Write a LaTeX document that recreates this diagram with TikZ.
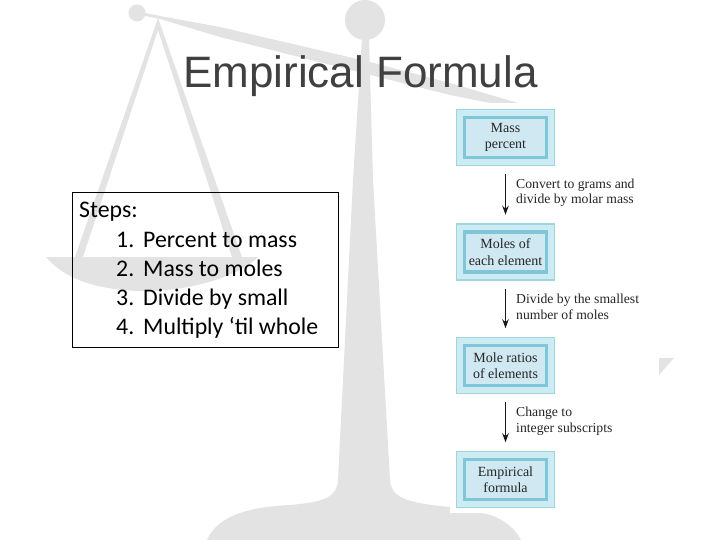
\documentclass[tikz,border=0pt]{standalone}
\usepackage{fontspec}
\setmainfont{Carlito}
\newfontfamily\titlefont{Liberation Sans}
\newfontfamily\flowfont{Liberation Serif}
\usetikzlibrary{arrows.meta}
\definecolor{scalegray}{HTML}{E3E3E3}
\definecolor{titlegray}{HTML}{404040}
\definecolor{edgeblue}{HTML}{9FD4E1}
\definecolor{paleblue}{HTML}{CDEBF2}
\definecolor{darkblue}{HTML}{7FC6D8}
\definecolor{innerblue}{HTML}{CFE8F1}
\definecolor{flowink}{HTML}{262626}
\tikzset{
  scaleshape/.style={fill=scalegray,draw=none},
  stepline/.style={anchor=base west,inner sep=0pt,font=\fontsize{23.8}{29}\selectfont,text=black},
  flowbox/.style={rectangle,draw=edgeblue,line width=1.5pt,fill=paleblue,minimum width=98pt,minimum height=56pt,inner sep=0pt,
    align=center,text=flowink,font=\flowfont\fontsize{14}{16.5}\selectfont,
    path picture={\draw[darkblue,line width=3.5pt,fill=innerblue]
      ([shift={(8pt,8pt)}]path picture bounding box.south west) rectangle
      ([shift={(-8pt,-8pt)}]path picture bounding box.north east);}},
  flowlabel/.style={anchor=west,inner sep=0pt,align=left,text=flowink,font=\flowfont\fontsize{13.7}{15.5}\selectfont},
  flowarrow/.style={-{Stealth[length=9pt,width=6.5pt]},line width=1.5pt,draw=black!90,shorten <=8pt,shorten >=8.5pt}
}
\begin{document}
\begin{tikzpicture}[x=1pt,y=-1pt]
\useasboundingbox (0,0) rectangle (720,540);
\fill[white] (0,0) rectangle (720,540);
% scale silhouette
\fill[scaleshape] (137,13) circle (8.5);
\fill[scaleshape] (365,20) circle (20);
\fill[scaleshape] (140,12) -- (160,16) -- (220,27) -- (370,62) -- (450,83) -- (518,103) -- (490,103) -- (450,95) -- (220,37) -- (160,19) -- (140,15) -- cycle;
\fill[scaleshape] (158,18) -- (75,257) -- (83,257) -- (158,30) -- (232,257) -- (242,257) -- cycle;
\fill[scaleshape] (46,257) -- (258,257) .. controls (235,280) and (180,292) .. (140,291) .. controls (100,290) and (65,280) .. (46,257) -- cycle;
\fill[scaleshape] (362,38) -- (369,38) -- (373,180) -- (390,480) .. controls (391,497) and (405,503) .. (450,507) -- (480,513) .. controls (500,515) and (515,528) .. (521,540) -- (207,540) .. controls (218,515) and (250,507) .. (290,505) .. controls (325,502) and (337,497) .. (338,480) -- (353,180) -- cycle;
\fill[white] (450,103) rectangle (660,513);
\fill[scaleshape] (659,358) -- (674,358) -- (659,375) -- cycle;
% title
\node[anchor=base,inner sep=0pt,text=titlegray,font=\titlefont\fontsize{44}{50}\selectfont] (title) at (360.5,88) {Empirical Formula};
% steps box
\node[draw=black,line width=1pt,minimum width=266pt,minimum height=154.5pt,inner sep=0pt] (stepsbox) at (205.5,269.75) {};
\node[stepline] (s0) at (79,217.5) {Steps:};
\node[stepline] (n1) at (116,247.5) {1.};
\node[stepline] (t1) at (143,247.5) {Percent to mass};
\node[stepline] (n2) at (116,276.5) {2.};
\node[stepline] (t2) at (143,276.5) {Mass to moles};
\node[stepline] (n3) at (116,305.5) {3.};
\node[stepline] (t3) at (143,305.5) {Divide by small};
\node[stepline] (n4) at (116,334.5) {4.};
\node[stepline] (t4) at (143,334.5) {Multiply ‘til whole};
% flow
\node[flowbox] (a) at (505.5,137.5) {Mass\\percent};
\node[flowbox] (b) at (505.5,252) {Moles of\\each element};
\node[flowbox] (c) at (505.5,365.5) {Mole ratios\\of elements};
\node[flowbox] (d) at (505.5,479.5) {Empirical\\formula};
\draw[flowarrow] (a) -- (b);
\draw[flowarrow] (b) -- (c);
\draw[flowarrow] (c) -- (d);
\node[flowlabel] (la) at (516,192.5) {Convert to grams and\\divide by molar mass};
\node[flowlabel] (lb) at (516,307) {Divide by the smallest\\number of moles};
\node[flowlabel] (lc) at (516,421) {Change to\\integer subscripts};
\end{tikzpicture}
\end{document}
